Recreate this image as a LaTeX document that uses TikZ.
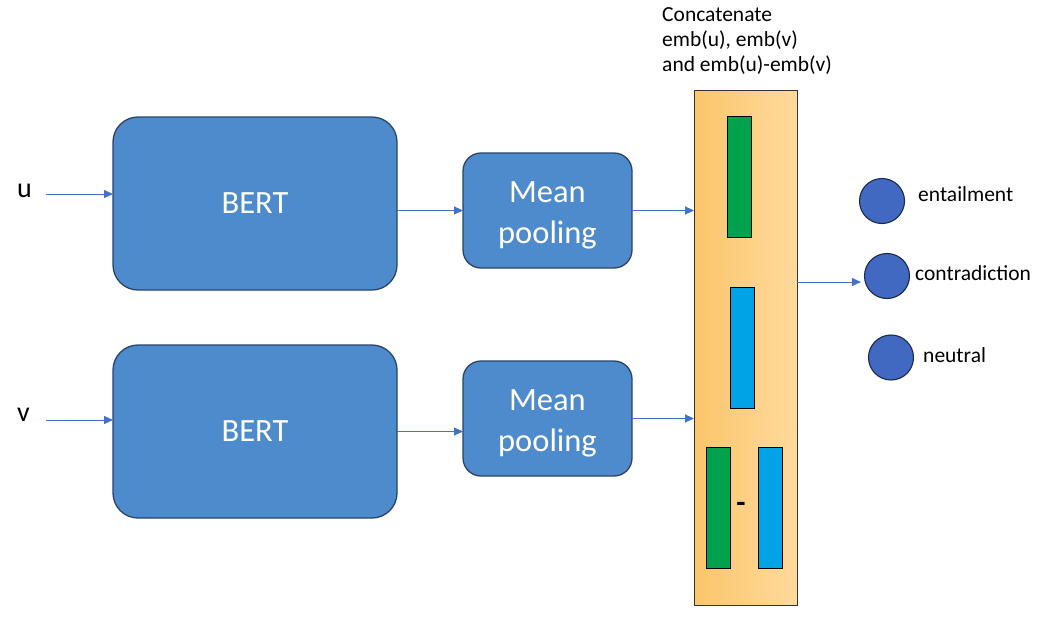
\documentclass[tikz,border=0pt]{standalone}
\usepackage{fontspec}
\setmainfont{Carlito}
\usetikzlibrary{arrows.meta}
\definecolor{boxblue}{HTML}{4E8BCD}
\definecolor{boxline}{HTML}{2A4468}
\definecolor{arrblue}{HTML}{4472C4}
\definecolor{circblue}{HTML}{4169C1}
\definecolor{circline}{HTML}{1B2A4A}
\definecolor{orL}{HTML}{FBC56A}
\definecolor{orR}{HTML}{FFDA9E}
\definecolor{embgreen}{HTML}{00A24C}
\definecolor{embblue}{HTML}{00A3E6}
\tikzset{
  blockbox/.style={draw=boxline, line width=1.3pt, fill=boxblue, rounded corners=#1, inner sep=0pt, outer sep=0pt},
  bigtext/.style={text=white, font=\fontsize{32.5}{41}\selectfont, align=center, inner sep=0pt},
  lbl/.style={font=\fontsize{21.5}{25}\selectfont, inner sep=0pt, anchor=base west},
  inlbl/.style={font=\fontsize{28}{30}\selectfont, inner sep=0pt, anchor=base west},
  arr/.style={draw=arrblue, line width=0.9pt, -{Triangle[length=9pt,width=8pt]}, color=arrblue},
  bar/.style={draw=black, line width=1pt, inner sep=0pt, outer sep=0pt, minimum width=24pt, minimum height=121pt},
  outc/.style={circle, draw=circline, line width=1.1pt, fill=circblue, inner sep=0pt, minimum size=45pt},
}
\begin{document}
\begin{tikzpicture}[x=1pt,y=-1pt]
\useasboundingbox (0,0) rectangle (1046,616);
\fill[white] (0,0) rectangle (1046,616);

% inputs
\node[inlbl] (u) at (17,197) {u};
\node[inlbl] (v) at (17,421) {v};
\coordinate (uin) at (46,194);
\coordinate (vin) at (46,420);

% BERT blocks
\node[blockbox=25pt, minimum width=284pt, minimum height=173pt] (b1) at (255,203.5) {};
\node[bigtext] (b1t) at (b1.center) {BERT};
\node[blockbox=25pt, minimum width=284pt, minimum height=173pt] (b2) at (255,431.5) {};
\node[bigtext] (b2t) at (b2.center) {BERT};

% Mean pooling blocks
\node[blockbox=18pt, minimum width=169pt, minimum height=115pt] (mp1) at (547.5,210.5) {};
\node[bigtext] (mp1t) at ([yshift=-5pt]mp1.center) {Mean\\pooling};
\node[blockbox=18pt, minimum width=169pt, minimum height=115pt] (mp2) at (547.5,418.5) {};
\node[bigtext] (mp2t) at ([yshift=-5pt]mp2.center) {Mean\\pooling};

% concatenate box
\node[draw=black!80, line width=1pt, left color=orL, right color=orR, minimum width=103pt, minimum height=515pt, inner sep=0pt, outer sep=0pt] (cc) at (745.5,347.5) {};
\node[bar, fill=embgreen] (g1) at (739,176.5) {};
\node[bar, fill=embblue] (bl1) at (742.5,347.5) {};
\node[bar, fill=embgreen] (g2) at (718.5,507.5) {};
\node[bar, fill=embblue] (bl2) at (770,507.5) {};
\node[font=\fontsize{30}{30}\selectfont\bfseries, inner sep=0pt] (minus) at (741,507) {-};

% caption
\node[lbl] (c1) at (662,21) {Concatenate};
\node[lbl] (c2) at (662,46) {emb(u), emb(v)};
\node[lbl] (c3) at (662,71) {and emb(u)-emb(v)};

% outputs
\node[outc] (o1) at (882,201) {};
\node[outc] (o2) at (887,276) {};
\node[outc] (o3) at (891,357.5) {};
\node[lbl] (l1) at (918,201) {entailment};
\node[lbl] (l2) at (915,280) {contradiction};
\node[lbl] (l3) at (923,362) {neutral};

% connectors
\draw[arr] (uin) -- (uin -| b1.west);
\draw[arr] (vin) -- (vin -| b2.west);
\draw[arr] (b1.east |- mp1.west) -- (mp1.west);
\draw[arr] (b2.east) -- (b2.east -| mp2.west);
\draw[arr] (mp1.east) -- (mp1.east -| cc.west);
\draw[arr] (mp2.east) -- (mp2.east -| cc.west);
\coordinate (ccout) at ([yshift=65.5pt]cc.east);
\draw[arr] (ccout) -- ([xshift=-3pt]ccout -| o2.west);
\end{tikzpicture}
\end{document}
